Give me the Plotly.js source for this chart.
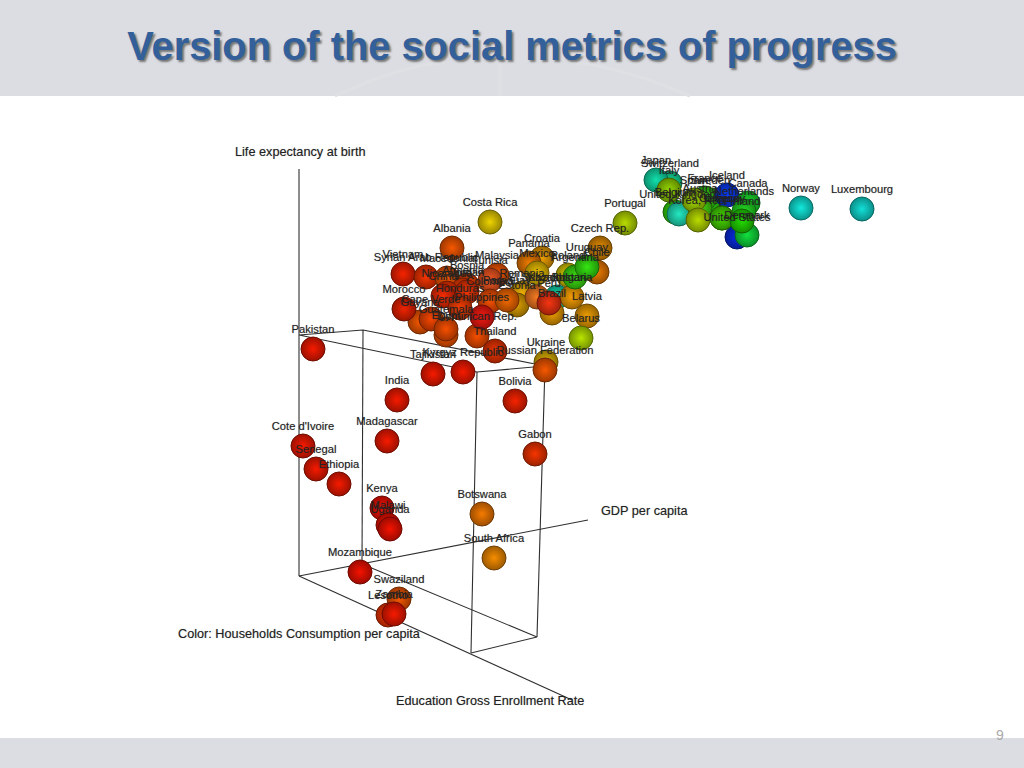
<!DOCTYPE html>
<html><head><meta charset="utf-8">
<script src="https://cdn.plot.ly/plotly-3.0.1.min.js"></script>
<style>html,body{margin:0;padding:0;background:#fff}#chart{width:1024px;height:768px}</style>
</head><body><div id="chart"></div>
<script>
// Projected position of each country in the picture, back to front
const countries = ["Norway","Luxembourg","Switzerland","Japan","Belgium","United Kingdom","Sweden","France","Iceland","Austria","Canada","Spain","Italy","Netherlands","United States","Denmark","Korea, Rep.","Greece","Germany","Finland","Portugal",
"Costa Rica","Czech Rep.","Chile","Poland","Croatia","Panama","Mexico","Romania","Estonia","Kazakhstan","Bulgaria","Brazil","Latvia","El Salvador","Peru","Argentina","Uruguay","Belarus",
"Albania","Vietnam","Syrian Arab Republic","Macedonia","Malaysia","Tunisia","Bosnia","Armenia","Nicaragua","Colombia","Paraguay","Guyana","Cape Verde","Morocco","Egypt","Guatemala","Jordan","China","Honduras","Dominican Rep.","Philippines","Thailand","Kyrgyz Republic","Tajikistan","Ukraine","Russian Federation",
"Pakistan","India","Bolivia","Madagascar","Gabon","Cote d'Ivoire","Senegal","Ethiopia","Kenya","Malawi","Uganda","Botswana","South Africa","Mozambique","Swaziland","Lesotho","Zambia"];
const posX = [801,862,670,656,675,679,710,705,727,700,748,694,669,744,737,747,698,722,722,742,625,
490,600,597,568,542,529,537,522,517,557,572,552,587,537,549,575,587,581,
452,403,426,447,497,490,467,463,447,490,507,420,431,404,446,446,467,443,460,477,482,495,463,433,546,545,
313,397,515,387,535,303,316,339,382,388,390,482,494,360,399,388,394];
const posY = [208,209,183,180,212,214,200,198,195,208,203,200,190,211,237,235,220,218,218,221,223,
222,248,272,275,258,263,273,293,305,297,297,313,316,297,303,277,267,338,
248,274,277,278,275,280,285,290,293,301,300,322,319,309,335,329,292,296,308,336,317,351,372,374,362,370,
349,400,401,441,454,446,469,484,508,525,529,514,558,572,599,615,614];
const colors = ["#10d4c8","#10ccc4","#10cc90","#10cc9c","#30c808","#20d4b0","#28c810","#30c810","#0838e8","#40c810","#18c828","#98c800","#88c400","#20c820","#0828d0","#10cc38","#a8c800","#40c400","#40c400","#20c800","#a8c800",
"#d8c000","#d08000","#d87000","#c8b800","#d89000","#d87000","#d8b000","#d8a000","#c89000","#10c8a0","#e09000","#d89000","#d89000","#e07020","#e03010","#38cc10","#30d010","#a8d000",
"#e05000","#e02000","#e03000","#e05000","#e05000","#e05020","#e04000","#e03800","#e03000","#e04800","#e06000","#e05000","#e04000","#d82000","#e05000","#e04800","#e03000","#e02800","#e03800","#e04800","#e01810","#d83000","#e01800","#e01800","#c8a000","#e05000",
"#e01800","#e01800","#e02000","#e01800","#e03000","#e01800","#e01800","#e01800","#e01000","#e01000","#e01000","#e07000","#e08000","#e01000","#e05000","#e03000","#e01800"];

// Axis frame of the 3-D view
const frameX = [299,299,null,299,588,null,299,572,null,299,363,545,477,299,null,363,362,null,477,471,null,545,537,null,362,537,471];
const frameY = [169,576,null,576,520,null,576,700,null,335,330,366,372,335,null,330,564,null,372,653,null,366,637,null,564,637,653];
const titleText = "Version of the social metrics of progress";
const axisLabels = ["Life expectancy at birth","GDP per capita","Color: Households Consumption per capita","Education Gross Enrollment Rate"];

function shade(hex,f){
  const n=parseInt(hex.slice(1),16);
  const c=[n>>16&255,n>>8&255,n&255].map(v=>Math.min(255,Math.round(v*f)));
  return "rgb("+c.join(",")+")";
}
const soft="0 0 1px rgba(40,40,40,.4)";
const labelFont={family:"Liberation Sans, Arial, sans-serif",size:11.2,color:"#222",shadow:soft};
const axisFont={family:"Liberation Sans, Arial, sans-serif",size:12.7,color:"#222",shadow:soft};
const traces=[
 {type:"scatter",mode:"lines",x:frameX,y:frameY,connectgaps:false,hoverinfo:"skip",line:{color:"#2f2f2f",width:1.1}},
 {type:"scatter",mode:"markers",x:posX,y:posY,cliponaxis:false,
  marker:{size:24,color:colors.map(c=>shade(c,0.7)),line:{width:1,color:colors.map(c=>shade(c,0.5))},
          gradient:{type:"radial",color:colors.map(c=>shade(c,1.1))}}},
 {type:"scatter",mode:"markers+text",x:posX,y:posY,text:countries,textposition:"top center",textfont:labelFont,cliponaxis:false,
  marker:{size:20,opacity:0}}
];
const layout={
 width:1024,height:768,margin:{l:0,r:0,t:0,b:0},showlegend:false,paper_bgcolor:"#fff",plot_bgcolor:"#fff",
 title:{text:titleText,x:0.5,xanchor:"center",y:0.94,yanchor:"middle",font:{family:"Liberation Sans, Arial, sans-serif",size:39.8,color:"#33609a",weight:700,shadow:"2px 2px 2px #777"}},
 xaxis:{range:[0,1024],visible:false,fixedrange:true},
 yaxis:{range:[768,0],visible:false,fixedrange:true},
 shapes:[
  {type:"rect",layer:"below",xref:"x",yref:"y",x0:0,x1:1024,y0:0,y1:96,fillcolor:"#dcdde2",line:{width:0}},
  {type:"rect",layer:"below",xref:"x",yref:"y",x0:0,x1:1024,y0:738,y1:768,fillcolor:"#dcdde2",line:{width:0}},
  {type:"path",layer:"below",xref:"x",yref:"y",path:"M 335 96 Q 400 66 445 62 M 690 96 Q 620 66 570 62 M 500 96 L 500 60",line:{color:"#dfe0e4",width:3}}
 ],
 annotations:[
  {text:axisLabels[0],x:300,y:152,xref:"x",yref:"y",showarrow:false,xanchor:"center",yanchor:"middle",font:axisFont},
  {text:axisLabels[1],x:599,y:511,xref:"x",yref:"y",showarrow:false,xanchor:"left",yanchor:"middle",font:axisFont},
  {text:axisLabels[2],x:176,y:634,xref:"x",yref:"y",showarrow:false,xanchor:"left",yanchor:"middle",font:axisFont},
  {text:axisLabels[3],x:394,y:701,xref:"x",yref:"y",showarrow:false,xanchor:"left",yanchor:"middle",font:axisFont},
  {text:"9",x:1000,y:735,xref:"x",yref:"y",showarrow:false,xanchor:"center",yanchor:"middle",font:{family:"Liberation Sans, Arial, sans-serif",size:14,color:"#a9a9a9"}}
 ]
};
Plotly.newPlot("chart",traces,layout,{displayModeBar:false,staticPlot:true});
</script></body></html>
